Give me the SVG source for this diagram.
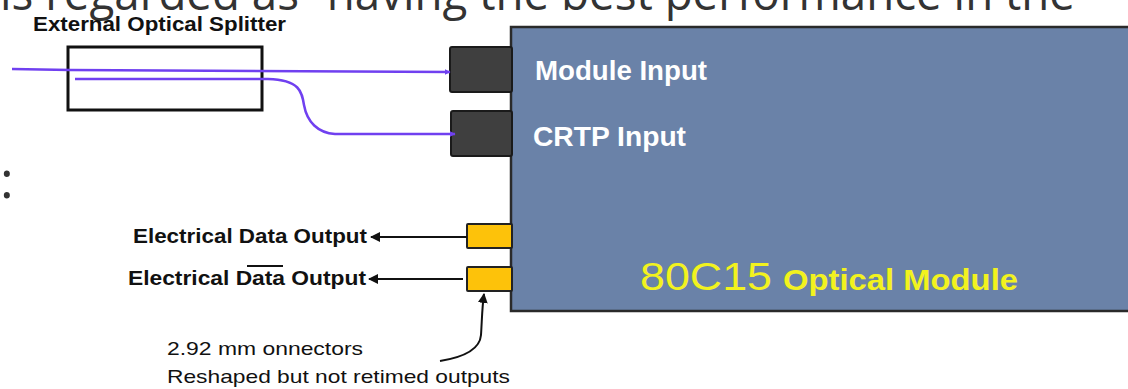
<svg xmlns="http://www.w3.org/2000/svg" width="1128" height="389" viewBox="0 0 1128 389">
<defs>
<style>
.bg{font-family:"Open Sans","DejaVu Sans",sans-serif;fill:#333;}
.lbl{font-family:"Liberation Sans",Arial,sans-serif;font-weight:bold;fill:#111;}
.wlbl{font-family:"Liberation Sans",Arial,sans-serif;font-weight:bold;fill:#fff;font-size:27px;}
.note{font-family:"Liberation Sans",Arial,sans-serif;fill:#111;font-size:19px;}
.fiber{fill:none;stroke:#7040f0;stroke-width:2.5;}
.wire{fill:none;stroke:#111;stroke-width:2;}
.port{fill:#3f3f3f;stroke:#1a1a1a;stroke-width:2;}
.eport{fill:#fdc20a;stroke:#222;stroke-width:2;}
</style>
<marker id="pa" viewBox="0 0 10 10" refX="9" refY="5" markerWidth="6" markerHeight="6" orient="auto" markerUnits="userSpaceOnUse">
<path d="M0,0 L10,5 L0,10 z" fill="#7040f0"/>
</marker>
<marker id="ka" viewBox="0 0 10 10" refX="9" refY="5" markerWidth="5" markerHeight="5" orient="auto" markerUnits="strokeWidth">
<path d="M0,0 L10,5 L0,10 z" fill="#111"/>
</marker>
</defs>
<rect width="1128" height="389" fill="#fff"/>
<text class="bg" x="0" y="10" font-size="48" textLength="1075" lengthAdjust="spacingAndGlyphs">is regarded as “having the best performance in the</text>
<text class="bg" x="0" y="198" font-size="52">:</text>

<g id="module">
<rect x="511" y="27" width="630" height="284" fill="#6a82a8" stroke="#2a2a2a" stroke-width="2.5"/>
<text x="640" y="290" font-size="39" font-family="'Liberation Sans',Arial,sans-serif" fill="#f2f21e" textLength="132" lengthAdjust="spacingAndGlyphs">80C15</text>
<text x="783" y="290" font-size="30" font-weight="bold" font-family="'Liberation Sans',Arial,sans-serif" fill="#f2f21e" textLength="235" lengthAdjust="spacingAndGlyphs">Optical Module</text>
</g>
<g id="module-input">
<rect class="port" x="450" y="47" width="62" height="45" rx="2"/>
<text class="wlbl" x="535" y="80" textLength="172" lengthAdjust="spacingAndGlyphs">Module Input</text>
</g>
<g id="crtp-input">
<rect class="port" x="451" y="111" width="61" height="45" rx="2"/>
<text class="wlbl" x="533" y="146" textLength="153" lengthAdjust="spacingAndGlyphs">CRTP Input</text>
</g>
<g id="data-out">
<rect class="eport" x="467" y="224" width="45" height="24" rx="1"/>
<text class="lbl" x="133" y="243" font-size="21" textLength="234" lengthAdjust="spacingAndGlyphs">Electrical Data Output</text>
</g>
<g id="data-bar-out">
<rect class="eport" x="467" y="267" width="45" height="24" rx="1"/>
<text class="lbl" x="128" y="285" font-size="21" textLength="238" lengthAdjust="spacingAndGlyphs">Electrical Data Output</text>
<line x1="247" y1="266" x2="283" y2="266" stroke="#111" stroke-width="1.8"/>
</g>
<g id="splitter">
<rect x="68" y="47" width="194" height="63" fill="none" stroke="#111" stroke-width="3"/>
<text class="lbl" x="33" y="31" font-size="20" textLength="253" lengthAdjust="spacingAndGlyphs">External Optical Splitter</text>
</g>
<g id="notes">
<text class="note" x="167" y="355" textLength="196" lengthAdjust="spacingAndGlyphs">2.92 mm onnectors</text>
<text class="note" x="167" y="383" textLength="343" lengthAdjust="spacingAndGlyphs">Reshaped but not retimed outputs</text>
</g>

<g id="connectors">
<path class="fiber" d="M12,69 L70,70 L450,72" marker-end="url(#pa)"/>
<path class="fiber" d="M75,79 L268,79 C300,80 302,92 304,105 C307,122 318,133 335,134 L455,134" marker-end="url(#pa)"/>
<path class="wire" d="M467,237 L371,237" marker-end="url(#ka)"/>
<path class="wire" d="M463,279 L369,279" marker-end="url(#ka)"/>
<path class="wire" d="M440,361 C465,357 480,348 481,335 C482,320 482,308 484,294" marker-end="url(#ka)"/>
</g>
</svg>
